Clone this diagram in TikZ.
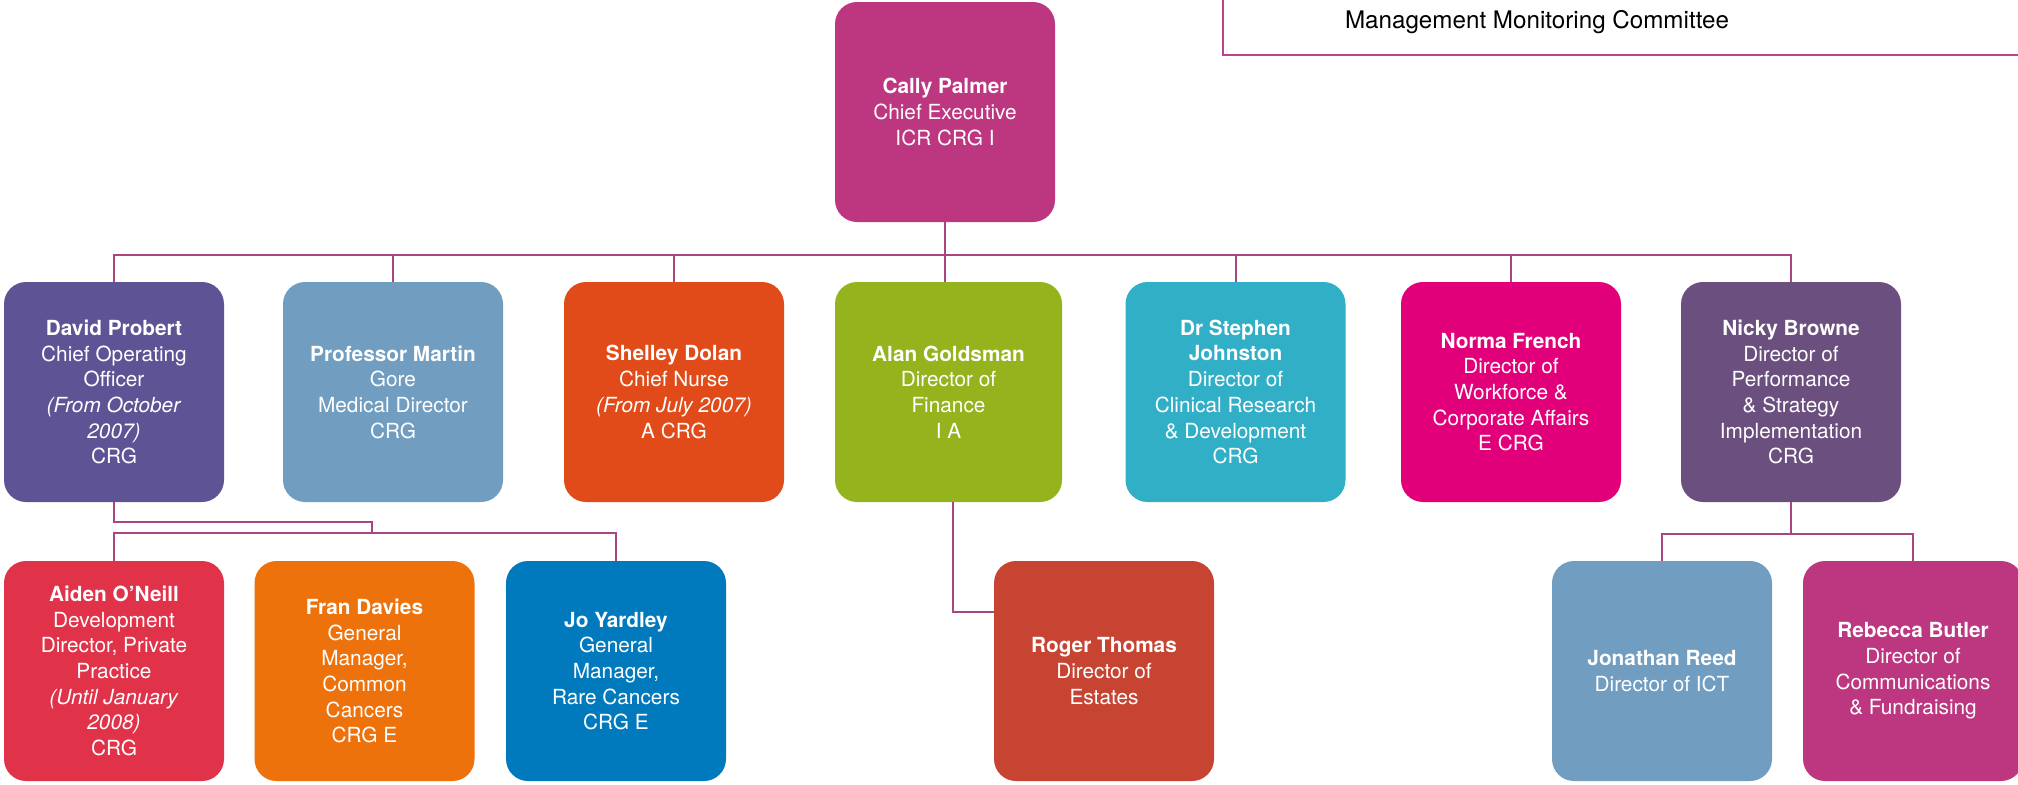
\documentclass[tikz,border=0pt]{standalone}
\usepackage{fontspec}
\setmainfont{TeX Gyre Heros}
\definecolor{cCally}{HTML}{BC3680}
\definecolor{cDavid}{HTML}{5E5394}
\definecolor{cMartin}{HTML}{709DC0}
\definecolor{cShelley}{HTML}{E04B19}
\definecolor{cAlan}{HTML}{95B31C}
\definecolor{cStephen}{HTML}{31AFC6}
\definecolor{cNorma}{HTML}{E2007A}
\definecolor{cNicky}{HTML}{6B4F7E}
\definecolor{cAiden}{HTML}{E0334A}
\definecolor{cFran}{HTML}{ED720B}
\definecolor{cJo}{HTML}{007ABD}
\definecolor{cRoger}{HTML}{C74433}
\definecolor{cJonathan}{HTML}{719DC0}
\definecolor{cRebecca}{HTML}{BC3680}
\definecolor{cLine}{HTML}{A8477F}
\definecolor{cFrame}{HTML}{C0408A}
\tikzset{
  orgbox/.style={rounded corners=11pt, minimum width=110pt, minimum height=110pt,
    inner sep=0pt, align=center, text=white,
    font=\fontsize{10.4}{12.85}\selectfont},
  conn/.style={draw=cLine, line width=1pt},
}
\begin{document}
\begin{tikzpicture}[x=0.5pt, y=-0.5pt]
\clip (0,0) rectangle (2018,784);
\useasboundingbox (0,0) rectangle (2018,784);
\fill[white] (0,0) rectangle (2018,784);
% management frame
\draw[cFrame, line width=1pt] (1223,-10) -- (1223,55) -- (2030,55);
\node[font=\fontsize{12.1}{14}\selectfont] (mmc) at (1537,22) {Management Monitoring Committee};
% top
\node[orgbox, fill=cCally] (cally) at (945,112) {\textbf{Cally Palmer}\\Chief Executive\\ICR CRG I};
% row 2
\node[orgbox, fill=cDavid] (david) at (114,392) {\textbf{David Probert}\\Chief Operating\\Officer\\\textit{(From October}\\\textit{2007)}\\CRG};
\node[orgbox, fill=cMartin] (martin) at (393,392) {\textbf{Professor Martin}\\Gore\\Medical Director\\CRG};
\node[orgbox, fill=cShelley] (shelley) at (674,392) {\textbf{Shelley Dolan}\\Chief Nurse\\\textit{(From July 2007)}\\A CRG};
\node[orgbox, fill=cAlan, minimum width=113.5pt] (alan) at (948.5,392) {\textbf{Alan Goldsman}\\Director of\\Finance\\I A};
\node[orgbox, fill=cStephen] (stephen) at (1235.5,392) {\textbf{Dr Stephen}\\\textbf{Johnston}\\Director of\\Clinical Research\\\& Development\\CRG};
\node[orgbox, fill=cNorma] (norma) at (1511,392) {\textbf{Norma French}\\Director of\\Workforce \&\\Corporate Affairs\\E CRG};
\node[orgbox, fill=cNicky] (nicky) at (1791,392) {\textbf{Nicky Browne}\\Director of\\Performance\\\& Strategy\\Implementation\\CRG};
% row 3
\node[orgbox, fill=cAiden] (aiden) at (114,671) {\textbf{Aiden O’Neill}\\Development\\Director, Private\\Practice\\\textit{(Until January}\\\textit{2008)}\\CRG};
\node[orgbox, fill=cFran] (fran) at (364.5,671) {\textbf{Fran Davies}\\General\\Manager,\\Common\\Cancers\\CRG E};
\node[orgbox, fill=cJo] (jo) at (616,671) {\textbf{Jo Yardley}\\General\\Manager,\\Rare Cancers\\CRG E};
\node[orgbox, fill=cRoger] (roger) at (1104,671) {\textbf{Roger Thomas}\\Director of\\Estates};
\node[orgbox, fill=cJonathan] (jonathan) at (1662,671) {\textbf{Jonathan Reed}\\Director of ICT};
\node[orgbox, fill=cRebecca] (rebecca) at (1913,671) {\textbf{Rebecca Butler}\\Director of\\Communications\\\& Fundraising};
% connectors
\coordinate (bus) at (945,255);
\draw[conn] (cally.south) -- (cally.south |- alan.north);
\draw[conn] (david.north) -- (david.north |- bus) -| (nicky.north);
\foreach \n in {martin, shelley, stephen, norma} {
  \draw[conn] (\n.north) -- (\n.north |- bus);
}
\coordinate (dj) at (372,522);
\coordinate (dbus) at (372,533);
\draw[conn] (david.south) |- (dj) -- (dbus);
\draw[conn] (aiden.north) |- (dbus) -| (jo.north);
\coordinate (ar) at (953,612);
\draw[conn] (ar |- alan.south) -- (ar) -- (roger.west |- ar);
\coordinate (nb) at (1791,534);
\draw[conn] (nicky.south) -- (nb);
\draw[conn] (jonathan.north) |- (nb) -| (rebecca.north);
\end{tikzpicture}
\end{document}
